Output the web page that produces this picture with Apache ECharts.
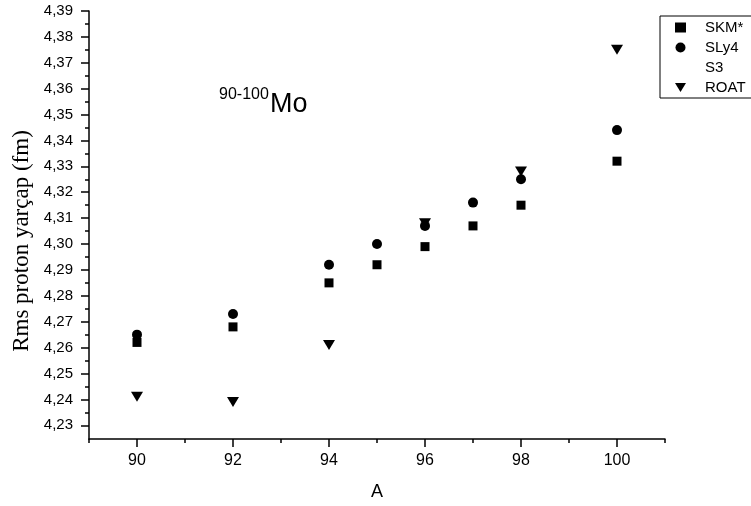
<!DOCTYPE html>
<html>
<head>
<meta charset="utf-8">
<script src="https://cdn.jsdelivr.net/npm/echarts@6/dist/echarts.min.js"></script>
<style>
  html, body { margin: 0; padding: 0; background: #fff; }
  #chart { width: 751px; height: 506px; }
</style>
</head>
<body>
<div id="chart"></div>
<script>
// data
const skmA = [90, 92, 94, 95, 96, 97, 98, 100];
const skmR = [4.262, 4.268, 4.285, 4.292, 4.299, 4.307, 4.315, 4.332];
const sly4A = [90, 92, 94, 95, 96, 97, 98, 100];
const sly4R = [4.265, 4.273, 4.292, 4.300, 4.307, 4.316, 4.325, 4.344];
const roatA = [90, 92, 94, 96, 98, 100];
const roatR = [4.241, 4.239, 4.261, 4.308, 4.328, 4.375];

const xMajor = [90, 92, 94, 96, 98, 100];
const xMinor = [89, 91, 93, 95, 97, 99, 101];
const yMajor = [4.23, 4.24, 4.25, 4.26, 4.27, 4.28, 4.29, 4.30,
  4.31, 4.32, 4.33, 4.34, 4.35, 4.36, 4.37, 4.38, 4.39];
const yMinor = [4.235, 4.245, 4.255, 4.265, 4.275, 4.285, 4.295, 4.305,
  4.315, 4.325, 4.335, 4.345, 4.355, 4.365, 4.375, 4.385];

const pairs = (xs, ys) => xs.map((x, i) => [x, ys[i]]);

const SANS = '"Liberation Sans", Arial, sans-serif';
const SERIF = '"Liberation Serif", "Times New Roman", serif';
const X_MIN = 89, X_MAX = 101;
const Y_MIN = 4.2247, Y_MAX = 4.39;
// upside-down triangle for the legend icon
const DOWN_TRI = 'path://M0,0 L12,0 L6,10 Z';

const chart = echarts.init(document.getElementById('chart'));

const lineStyle = { color: '#000', width: 1.5 };
const markStyle = { color: '#000', opacity: 1 };

chart.setOption({
  animation: false,
  backgroundColor: '#fff',
  grid: { left: 89, right: 86, top: 11, bottom: 65 },
  xAxis: [
    {
      type: 'value', min: X_MIN, max: X_MAX,
      name: 'A', nameLocation: 'middle', nameGap: 44,
      nameTextStyle: { fontFamily: SANS, fontSize: 18, color: '#000' },
      axisLine: { show: true, onZero: false, lineStyle: lineStyle },
      axisTick: { show: true, inside: false, length: 8, customValues: xMajor, lineStyle: lineStyle },
      axisLabel: { customValues: xMajor, margin: 14, fontFamily: SANS, fontSize: 16, color: '#000' },
      splitLine: { show: false }
    },
    {
      type: 'value', min: X_MIN, max: X_MAX, position: 'bottom',
      axisLine: { show: false },
      axisTick: { show: true, inside: false, length: 4, customValues: xMinor, lineStyle: lineStyle },
      axisLabel: { show: false },
      splitLine: { show: false }
    }
  ],
  yAxis: [
    {
      type: 'value', min: Y_MIN, max: Y_MAX,
      axisLine: { show: true, onZero: false, lineStyle: lineStyle },
      axisTick: { show: true, inside: false, length: 8, customValues: yMajor, lineStyle: lineStyle },
      axisLabel: {
        customValues: yMajor, margin: 16, fontFamily: SANS, fontSize: 15, color: '#000',
        formatter: v => v.toFixed(2).replace('.', ',')
      },
      splitLine: { show: false }
    },
    {
      type: 'value', min: Y_MIN, max: Y_MAX, position: 'left',
      axisLine: { show: false },
      axisTick: { show: true, inside: false, length: 4, customValues: yMinor, lineStyle: lineStyle },
      axisLabel: { show: false },
      splitLine: { show: false }
    }
  ],
  legend: {
    orient: 'vertical',
    left: 660, top: 16,
    padding: [4, 30, 3, 15],
    itemWidth: 11, itemHeight: 10, itemGap: 5,
    borderColor: '#000', borderWidth: 1, backgroundColor: '#fff',
    textStyle: { fontFamily: SANS, fontSize: 15, color: '#000', padding: [0, 0, 0, 14] },
    data: [
      { name: 'SKM*' },
      { name: 'SLy4' },
      { name: 'S3', icon: 'none' },
      { name: 'ROAT', icon: DOWN_TRI }
    ]
  },
  graphic: [
    {
      type: 'text', left: 219, top: 87,
      style: { text: '90-100', fontFamily: SANS, fontSize: 16, fill: '#000' }
    },
    {
      type: 'text', left: 270, top: 91,
      style: { text: 'Mo', fontFamily: SANS, fontSize: 27, fill: '#000' }
    },
    {
      type: 'text', x: 22, y: 241, rotation: Math.PI / 2,
      style: {
        text: 'Rms proton yarçap (fm)', fontFamily: SERIF, fontSize: 23, fill: '#000',
        align: 'center', verticalAlign: 'middle'
      }
    }
  ],
  series: [
    {
      name: 'SKM*', type: 'scatter', symbol: 'rect', symbolSize: 9,
      itemStyle: markStyle, data: pairs(skmA, skmR)
    },
    {
      name: 'SLy4', type: 'scatter', symbol: 'circle', symbolSize: 10,
      itemStyle: markStyle, data: pairs(sly4A, sly4R)
    },
    {
      name: 'S3', type: 'scatter', symbol: 'none',
      itemStyle: markStyle, data: []
    },
    {
      name: 'ROAT', type: 'scatter', symbol: 'triangle', symbolRotate: 180, symbolSize: [12, 10],
      itemStyle: markStyle, data: pairs(roatA, roatR)
    }
  ]
});
</script>
</body>
</html>
